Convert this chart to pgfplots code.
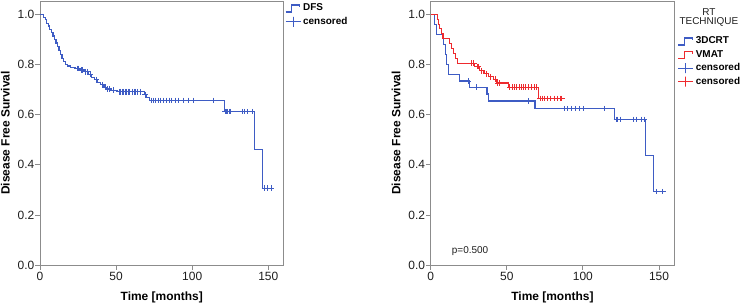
\documentclass[border=0pt]{standalone}
\usepackage{fontspec}
\setmainfont{Liberation Sans}
\usepackage{pgfplots}
\pgfplotsset{compat=1.18}
\definecolor{kmblue}{RGB}{62,92,196}
\definecolor{kmred}{RGB}{238,42,46}
\definecolor{framegrey}{RGB}{140,140,140}
\definecolor{ticktext}{RGB}{30,30,30}

\pgfplotstableread{
t S
0 1.000
2.5 0.990
3.5 0.980
4.5 0.965
5.5 0.955
6.5 0.942
7.5 0.928
8.5 0.915
9.5 0.900
10.5 0.887
11.5 0.872
12.5 0.857
13.5 0.840
14.5 0.825
15.5 0.812
16.5 0.802
18 0.795
20 0.790
23 0.785
26 0.779
29 0.772
32 0.762
34 0.750
36 0.740
38 0.728
40 0.720
42 0.710
44 0.703
47 0.698
51 0.692
68.5 0.680
70 0.668
72 0.657
121 0.613
141 0.460
146 0.307
152.4 0.307
}\dfs

\pgfplotstableread{
t S
24.5 0.785
25.5 0.785
27 0.779
28 0.779
30 0.772
31 0.772
33 0.762
37 0.740
41 0.720
43 0.710
44.5 0.703
45.5 0.703
48 0.698
52 0.692
53 0.692
54 0.692
55 0.692
56 0.692
57 0.692
58 0.692
59 0.692
61 0.692
62 0.692
63 0.692
64 0.692
66 0.692
69 0.680
73.5 0.657
74.5 0.657
75.7 0.657
77.8 0.657
78.9 0.657
81.1 0.657
83.3 0.657
85 0.657
86.6 0.657
88.8 0.657
91 0.657
94.3 0.657
97.6 0.657
100.9 0.657
114 0.657
121.7 0.613
122.5 0.613
123.3 0.613
124.2 0.613
125 0.613
132.7 0.613
134.2 0.613
136.4 0.613
139.3 0.613
147.4 0.307
149.5 0.307
151.8 0.307
}\dfscens

\pgfplotstableread{
t S
0 1.000
2.3 0.960
4.0 0.920
8.3 0.880
9.5 0.840
10.5 0.800
11.8 0.760
18.8 0.735
25.3 0.710
37.0 0.683
38.2 0.655
68.5 0.625
120.6 0.582
141.0 0.437
146.5 0.293
152.6 0.293
}\crt

\pgfplotstableread{
t S
24.8 0.735
29.9 0.710
63.9 0.655
87.9 0.625
89.9 0.625
92.5 0.625
94.8 0.625
97.6 0.625
100.4 0.625
114 0.625
122 0.582
123 0.582
124.6 0.582
133.3 0.582
135.5 0.582
138.3 0.582
140.3 0.582
148.2 0.293
152.6 0.293
}\crtcens

\pgfplotstableread{
t S
0 1.000
4.4 0.980
5.2 0.960
6.0 0.945
7.0 0.925
8.1 0.905
12.5 0.885
13.8 0.865
15.0 0.845
16.2 0.825
17.5 0.806
29.0 0.793
32.2 0.776
35 0.764
38 0.752
41 0.742
43.5 0.727
51.0 0.710
70.7 0.665
86.2 0.665
}\vmat

\pgfplotstableread{
t S
26.5 0.806
28.3 0.806
30.5 0.793
31.5 0.793
33.5 0.776
36.5 0.764
39.5 0.752
42.5 0.742
44 0.727
45 0.727
52 0.710
53.5 0.710
55 0.710
56.5 0.710
58 0.710
59.5 0.710
61 0.710
62.5 0.710
64 0.710
66 0.710
68.3 0.710
69.4 0.710
72 0.665
73.5 0.665
75 0.665
77 0.665
79 0.665
81 0.665
83 0.665
85 0.665
86.2 0.665
}\vmatcens

\pgfplotsset{
  kmaxis/.style={
    scale only axis, width=243.5bp, height=264bp,
    xmin=0, xmax=160, ymin=0, ymax=1.0547,
    axis line style={draw=framegrey, line width=0.8bp},
    xtick={0,50,100,150}, ytick={0,0.2,0.4,0.6,0.8,1.0},
    tick align=outside, xtick pos=bottom, ytick pos=left,
    major tick length=4.5bp,
    tick style={draw=framegrey, line width=0.8bp},
    /pgf/number format/assume math mode=true,
    ticklabel style={font=\fontsize{12}{14}\selectfont, text=ticktext},
    yticklabel style={inner sep=1bp, /pgf/number format/.cd, fixed, fixed zerofill, precision=1},
    xticklabel style={inner sep=2bp},
    label style={font=\bfseries\fontsize{12}{14}\selectfont, text=black},
    xlabel={Time [months]}, ylabel={Disease Free Survival},
    xlabel style={at={(axis description cs:0.5,-0.121)}, anchor=center},
    ylabel style={at={(axis description cs:-0.142,0.5)}, anchor=center},
    legend cell align=left,
    legend style={draw=none, fill=none, inner sep=0pt, outer sep=0pt,
      font=\bfseries\fontsize{10}{11}\selectfont, text=black,
      nodes={inner sep=0.5bp, text height=7.5bp, text depth=2.5bp},
      row sep=2.3bp,
      /tikz/every odd column/.append style={column sep=1.5bp}},
  },
  stepimg/.style={legend image code/.code={%
    \draw[line width=1.1bp] (0bp,-3.5bp) -- (6bp,-3.5bp) -- (6bp,3.5bp) -- (14bp,3.5bp) -- (14bp,1bp);}},
  plusimg/.style={legend image code/.code={%
    \draw[line width=1.1bp] (0bp,0bp) -- (7.5bp,0bp) -- (7.5bp,5bp) -- (7.5bp,-5bp) -- (7.5bp,0bp) -- (15bp,0bp);}},
  stepline/.style={color=#1, const plot, line width=1.2bp, mark=none, stepimg},
  cens/.style={color=#1, only marks, mark=+, mark size=2.8bp,
    mark options={line width=0.9bp}, plusimg},
}

\begin{document}
\begin{tikzpicture}
\useasboundingbox (0,0) rectangle (740bp,304bp);

\begin{axis}[kmaxis, at={(40bp,39bp)}, anchor=south west,
  legend style={at={(axis description cs:1,1)}, anchor=north west, xshift=1.5bp, yshift=-2bp}]
\addplot[stepline=kmblue] table[x=t,y=S] {\dfs};
\addlegendentry{DFS}
\addplot[cens=kmblue] table[x=t,y=S] {\dfscens};
\addlegendentry{censored}
\end{axis}

\begin{axis}[kmaxis, name=r, at={(430.7bp,39bp)}, anchor=south west,
  legend style={at={(axis description cs:1,1)}, anchor=north west, xshift=3.5bp, yshift=-35bp}]
\addplot[stepline=kmblue] table[x=t,y=S] {\crt};
\addlegendentry{3DCRT}
\addplot[stepline=kmred] table[x=t,y=S] {\vmat};
\addlegendentry{VMAT}
\addplot[cens=kmblue] table[x=t,y=S] {\crtcens};
\addlegendentry{censored}
\addplot[cens=kmred] table[x=t,y=S] {\vmatcens};
\addlegendentry{censored}
\node[anchor=west, font=\fontsize{10}{11}\selectfont, text=ticktext, inner sep=0pt] at (axis cs:13.8,0.057) {p=0.500};
\end{axis}

\node[anchor=north, align=center, font=\fontsize{10}{9.5}\selectfont, text=ticktext, inner sep=0pt]
  at ([xshift=34.7bp, yshift=-7bp]r.north east) {RT\\TECHNIQUE};
\end{tikzpicture}
\end{document}
